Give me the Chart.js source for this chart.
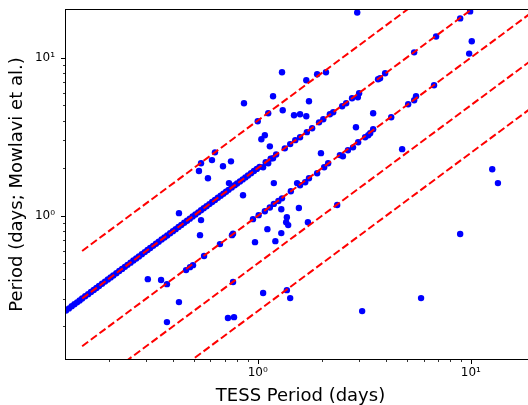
<!DOCTYPE html>
<html>
<head>
<meta charset="utf-8">
<script src="https://cdn.jsdelivr.net/npm/chart.js@4"></script>
<style>
  html, body { margin: 0; padding: 0; overflow: hidden; background: #fff; }
  canvas { display: block; }
</style>
</head>
<body>
<canvas id="periodChart" width="540" height="405"></canvas>
<script>
// dense run of stars where Mowlavi period = 2 x TESS period
const bandTess = [0.126, 0.13, 0.134, 0.138, 0.142, 0.146, 0.15, 0.155, 0.16, 0.165,
  0.17, 0.175, 0.18, 0.186, 0.192, 0.198, 0.204, 0.21, 0.217, 0.224,
  0.231, 0.238, 0.245, 0.253, 0.261, 0.269, 0.277, 0.286, 0.295, 0.304,
  0.313, 0.323, 0.333, 0.343, 0.354, 0.365, 0.376, 0.388, 0.4, 0.412,
  0.425, 0.438, 0.452, 0.466, 0.48, 0.495, 0.51, 0.526, 0.542, 0.558,
  0.575, 0.593, 0.611, 0.63, 0.65, 0.67, 0.69, 0.71, 0.73, 0.755,
  0.78, 0.8, 0.825, 0.85, 0.875, 0.9, 0.93, 0.96, 0.99, 1.02];
const bandMowlavi = [0.252, 0.26, 0.268, 0.276, 0.284, 0.292, 0.3, 0.31, 0.32, 0.33,
  0.34, 0.35, 0.36, 0.372, 0.384, 0.396, 0.408, 0.42, 0.434, 0.448,
  0.462, 0.476, 0.49, 0.506, 0.522, 0.538, 0.554, 0.572, 0.59, 0.608,
  0.626, 0.646, 0.666, 0.686, 0.708, 0.73, 0.752, 0.776, 0.8, 0.824,
  0.85, 0.876, 0.904, 0.932, 0.96, 0.99, 1.02, 1.052, 1.084, 1.116,
  1.15, 1.186, 1.222, 1.26, 1.3, 1.34, 1.38, 1.42, 1.46, 1.51,
  1.56, 1.6, 1.65, 1.7, 1.75, 1.8, 1.86, 1.92, 1.98, 2.04];

// all the other stars
const otherTess = [2.93, 0.862, 1.30, 1.90, 2.09, 1.69, 1.18, 1.12, 1.31, 1.74,
  1.48, 1.58, 1.69, 1.0, 1.08, 1.04, 1.14, 0.63, 0.61, 0.542,
  0.53, 0.687, 0.749, 0.584, 0.733, 0.427, 0.542, 0.536, 1.19, 0.853,
  1.98, 3.48, 2.89, 4.76, 12.6, 13.4, 9.82, 10.1, 8.91, 9.92,
  6.87, 5.42, 6.72, 5.53, 5.42, 5.08, 4.23,
  3.96, 3.75, 3.67, 2.99, 2.95, 2.77, 2.60, 2.49, 2.26, 2.18,
  2.03, 1.94, 1.80, 1.70, 1.58, 1.50, 1.42, 1.34, 1.22, 1.18,
  1.15, 1.12, 1.09, 1.06,
  1.30, 1.43, 1.53, 1.58, 1.67, 1.74, 1.90, 2.05, 2.14, 2.43,
  2.51, 2.65, 2.80, 2.96, 3.19, 3.30, 3.37, 3.48, 1.25, 1.19,
  1.14, 1.08, 1.01, 0.95, 0.757, 0.766, 0.665, 0.56, 0.497, 0.481,
  0.461, 0.375,
  1.29, 1.56, 1.37, 1.36, 1.39, 1.72, 1.11, 1.29, 1.21, 0.971,
  2.36, 0.305, 0.352, 0.427, 0.375, 0.725, 0.774, 0.766, 1.06, 1.37,
  1.42, 3.09, 5.84, 8.91];
const otherMowlavi = [19.3, 5.15, 8.08, 7.85, 8.08, 7.19, 5.70, 4.45, 4.65, 5.30,
  4.32, 4.39, 4.26, 3.96, 3.23, 3.05, 2.75, 2.52, 2.25, 2.15,
  1.92, 2.06, 2.21, 1.73, 1.61, 1.04, 0.94, 0.755, 1.61, 1.35,
  2.49, 4.45, 3.63, 2.64, 1.97, 1.61, 10.6, 12.7, 17.7, 19.6,
  13.6, 10.8, 6.69, 5.70, 5.38, 5.07, 4.20,
  7.96, 7.40, 7.30, 5.95, 5.62, 5.54, 5.15, 4.93, 4.52, 4.39,
  4.08, 3.90, 3.58, 3.38, 3.14, 3.01, 2.84, 2.67, 2.44, 2.31,
  2.30, 2.15, 2.18, 2.03,
  1.29, 1.43, 1.61, 1.56, 1.63, 1.73, 1.86, 2.03, 2.15, 2.42,
  2.38, 2.60, 2.71, 2.92, 3.14, 3.23, 3.33, 3.53, 1.24, 1.19,
  1.13, 1.07, 1.01, 0.953, 0.755, 0.77, 0.663, 0.557, 0.488, 0.474,
  0.454, 0.370,
  1.10, 1.12, 0.98, 0.912, 0.874, 0.912, 0.824, 0.778, 0.692, 0.682,
  1.17, 0.398, 0.393, 0.285, 0.213, 0.226, 0.229, 0.382, 0.325, 0.339,
  0.302, 0.250, 0.302, 0.767];

// dashed reference lines (ratios 4, 2, 1, 1/2, 1/4)
const guideX = [0.15, 30];
const guideY = [[0.6, 120], [0.3, 60], [0.15, 30], [0.075, 15], [0.0375, 7.5]];

const majorTicks = [1, 10];
const majorLabels = ["10\u2070", "10\u00b9"];
const minorTicks = [0.2, 0.3, 0.4, 0.5, 0.6, 0.7, 0.8, 0.9, 2, 3, 4, 5, 6, 7, 8, 9];

const FONT = "'DejaVu Sans', 'Liberation Sans', sans-serif";

function toPoints(xs, ys) {
  return xs.map((x, i) => ({ x: x, y: ys[i] }));
}

function tickLabel(value) {
  const i = majorTicks.indexOf(value);
  return i >= 0 ? majorLabels[i] : "";
}

function allTicks(scale) {
  const vals = minorTicks.concat(majorTicks).sort((a, b) => a - b);
  scale.ticks = vals
    .filter((v) => v >= scale.min && v <= scale.max)
    .map((v) => ({ value: v }));
}

// matplotlib style box and outward tick marks
const frameAndTicks = {
  id: "frameAndTicks",
  afterDraw(chart) {
    const { ctx, chartArea: a } = chart;
    const xs = chart.scales.x;
    const ys = chart.scales.y;
    ctx.save();
    ctx.strokeStyle = "#000";
    ctx.lineWidth = 1;
    ctx.strokeRect(a.left - 0.5, a.top - 0.5, a.right - a.left + 1, a.bottom - a.top + 1);
    const drawSet = (vals, len, width) => {
      ctx.lineWidth = width;
      vals.forEach((v) => {
        if (v >= xs.min && v <= xs.max) {
          const px = Math.round(xs.getPixelForValue(v)) + 0.5;
          ctx.beginPath();
          ctx.moveTo(px, a.bottom);
          ctx.lineTo(px, a.bottom + len);
          ctx.stroke();
        }
        if (v >= ys.min && v <= ys.max) {
          const py = Math.round(ys.getPixelForValue(v)) + 0.5;
          ctx.beginPath();
          ctx.moveTo(a.left - len, py);
          ctx.lineTo(a.left, py);
          ctx.stroke();
        }
      });
    };
    drawSet(majorTicks, 5, 1);
    drawSet(minorTicks, 3, 0.8);
    ctx.restore();
  },
};

const datasets = guideY.map((ys) => ({
  data: toPoints(guideX, ys),
  showLine: true,
  borderColor: "#ff0000",
  borderWidth: 2,
  borderDash: [7.5, 3.3],
  pointRadius: 0,
  fill: false,
  order: 0,
  clip: 0,
}));

datasets.push({
  data: toPoints(bandTess, bandMowlavi).concat(toPoints(otherTess, otherMowlavi)),
  backgroundColor: "#0000ff",
  borderWidth: 0,
  pointRadius: 3.2,
  pointHoverRadius: 3.2,
  order: 1,
  clip: 0,
});

new Chart(document.getElementById("periodChart"), {
  type: "scatter",
  data: { datasets: datasets },
  options: {
    responsive: false,
    animation: false,
    devicePixelRatio: 1,
    layout: { padding: { top: 10, right: 5, left: 0, bottom: 0 } },
    plugins: { legend: { display: false }, tooltip: { enabled: false } },
    scales: {
      x: {
        type: "logarithmic",
        min: 0.126,
        max: 20,
        bounds: "data",
        grid: { display: false, drawTicks: false },
        border: { display: false },
        afterBuildTicks: allTicks,
        afterFit: (s) => {
          s.height = 46;
          s.paddingLeft = 0;
          s.paddingRight = 0;
        },
        ticks: {
          autoSkip: false,
          maxRotation: 0,
          padding: 7,
          color: "#000",
          font: { family: FONT, size: 12 },
          callback: tickLabel,
        },
        title: {
          display: true,
          text: "TESS Period (days)",
          color: "#000",
          font: { family: FONT, size: 18 },
          padding: { top: 0, bottom: -2 },
        },
      },
      y: {
        type: "logarithmic",
        min: 0.1245,
        max: 20,
        bounds: "data",
        grid: { display: false, drawTicks: false },
        border: { display: false },
        afterBuildTicks: allTicks,
        afterFit: (s) => {
          s.width = 66;
          s.paddingTop = 0;
          s.paddingBottom = 0;
        },
        ticks: {
          autoSkip: false,
          padding: 11,
          color: "#000",
          font: { family: FONT, size: 12 },
          callback: tickLabel,
        },
        title: {
          display: true,
          text: "Period (days; Mowlavi et al.)",
          color: "#000",
          font: { family: FONT, size: 18 },
          padding: { top: 7, bottom: 0 },
        },
      },
    },
  },
  plugins: [frameAndTicks],
});
</script>
</body>
</html>
